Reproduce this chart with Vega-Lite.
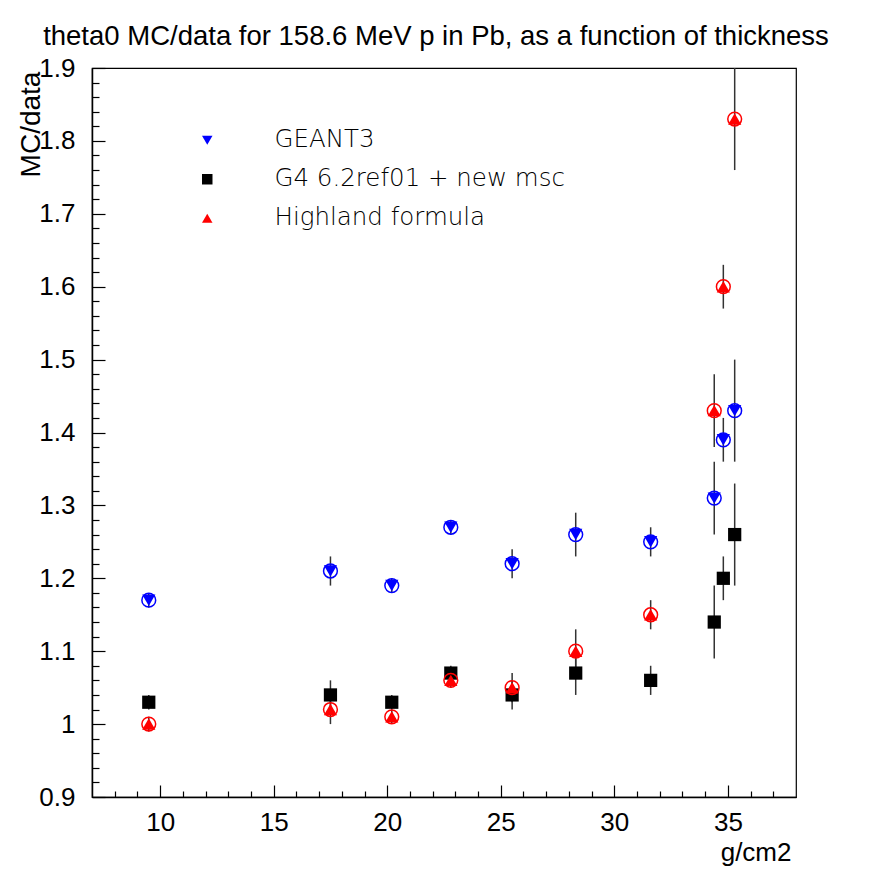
{
  "$schema": "https://vega.github.io/schema/vega-lite/v6.json",
  "width": 704,
  "height": 729,
  "autosize": {"type": "none"},
  "padding": {"left": 92, "top": 68, "right": 76, "bottom": 83},
  "background": "white",
  "title": {
    "text": "theta0 MC/data for 158.6 MeV p in Pb, as a function of thickness",
    "font": "Liberation Sans",
    "fontSize": 27.5,
    "fontWeight": "normal",
    "color": "black",
    "anchor": "middle",
    "baseline": "alphabetic",
    "offset": -17,
    "dx": -8
  },
  "config": {
    "view": {"stroke": "black", "strokeWidth": 1.2},
    "axis": {
      "domainColor": "black",
      "domainWidth": 1.5,
      "tickColor": "black",
      "tickWidth": 1.2,
      "grid": false,
      "labelFont": "Liberation Sans",
      "labelFontSize": 26,
      "labelColor": "black",
      "titleFont": "Liberation Sans",
      "titleFontWeight": "normal",
      "titleColor": "black"
    },
    "legend": {
      "orient": "none",
      "legendX": 103,
      "legendY": 60,
      "direction": "vertical",
      "labelFont": "'DejaVu Sans ExtraLight', 'DejaVu Sans'",
      "labelFontWeight": 200,
      "labelFontSize": 24.5,
      "labelColor": "black",
      "labelOffset": 55,
      "labelLimit": 0,
      "rowPadding": 14,
      "symbolSize": 110,
      "symbolStrokeWidth": 0
    }
  },
  "data": {
    "values": [
      {"series": "GEANT3", "x": 9.5, "y": 1.17, "err": 0.01},
      {"series": "GEANT3", "x": 17.5, "y": 1.21, "err": 0.02},
      {"series": "GEANT3", "x": 20.2, "y": 1.19, "err": 0.01},
      {"series": "GEANT3", "x": 22.8, "y": 1.27, "err": 0.01},
      {"series": "GEANT3", "x": 25.5, "y": 1.22, "err": 0.02},
      {"series": "GEANT3", "x": 28.3, "y": 1.26, "err": 0.03},
      {"series": "GEANT3", "x": 31.6, "y": 1.25, "err": 0.02},
      {"series": "GEANT3", "x": 34.4, "y": 1.31, "err": 0.05},
      {"series": "GEANT3", "x": 34.8, "y": 1.39, "err": 0.03},
      {"series": "GEANT3", "x": 35.3, "y": 1.43, "err": 0.07},
      {"series": "G4 6.2ref01 + new msc", "x": 9.5, "y": 1.03, "err": 0.01},
      {"series": "G4 6.2ref01 + new msc", "x": 17.5, "y": 1.04, "err": 0.02},
      {"series": "G4 6.2ref01 + new msc", "x": 20.2, "y": 1.03, "err": 0.01},
      {"series": "G4 6.2ref01 + new msc", "x": 22.8, "y": 1.07, "err": 0.01},
      {"series": "G4 6.2ref01 + new msc", "x": 25.5, "y": 1.04, "err": 0.02},
      {"series": "G4 6.2ref01 + new msc", "x": 28.3, "y": 1.07, "err": 0.03},
      {"series": "G4 6.2ref01 + new msc", "x": 31.6, "y": 1.06, "err": 0.02},
      {"series": "G4 6.2ref01 + new msc", "x": 34.4, "y": 1.14, "err": 0.05},
      {"series": "G4 6.2ref01 + new msc", "x": 34.8, "y": 1.2, "err": 0.03},
      {"series": "G4 6.2ref01 + new msc", "x": 35.3, "y": 1.26, "err": 0.07},
      {"series": "Highland formula", "x": 9.5, "y": 1.0, "err": 0.01},
      {"series": "Highland formula", "x": 17.5, "y": 1.02, "err": 0.02},
      {"series": "Highland formula", "x": 20.2, "y": 1.01, "err": 0.01},
      {"series": "Highland formula", "x": 22.8, "y": 1.06, "err": 0.01},
      {"series": "Highland formula", "x": 25.5, "y": 1.05, "err": 0.02},
      {"series": "Highland formula", "x": 28.3, "y": 1.1, "err": 0.03},
      {"series": "Highland formula", "x": 31.6, "y": 1.15, "err": 0.02},
      {"series": "Highland formula", "x": 34.4, "y": 1.43, "err": 0.05},
      {"series": "Highland formula", "x": 34.8, "y": 1.6, "err": 0.03},
      {"series": "Highland formula", "x": 35.3, "y": 1.83, "err": 0.07}
    ]
  },
  "encoding": {
    "x": {
      "field": "x",
      "type": "quantitative",
      "scale": {"domain": [7, 38], "nice": false, "zero": false},
      "axis": {
        "title": "g/cm2",
        "titleFontSize": 26,
        "titleX": 699,
        "titleY": 63,
        "titleAlign": "right",
        "titleBaseline": "alphabetic",
        "titleAnchor": "end",
        "values": [8, 9, 10, 11, 12, 13, 14, 15, 16, 17, 18, 19, 20, 21, 22, 23, 24, 25, 26, 27, 28, 29, 30, 31, 32, 33, 34, 35, 36, 37],
        "labelExpr": "datum.value % 5 === 0 ? datum.label : ''",
        "tickSize": {"condition": {"test": "datum.value % 5 === 0", "value": -12}, "value": -6},
        "labelPadding": 24,
        "labelFlush": false,
        "labelOverlap": false
      }
    },
    "y": {
      "field": "y",
      "type": "quantitative",
      "scale": {"domain": [0.9, 1.9], "nice": false, "zero": false},
      "axis": {
        "title": "MC/data",
        "titleFontSize": 28,
        "titleX": -53,
        "titleY": 56,
        "titleAngle": -90,
        "titleAlign": "center",
        "titleBaseline": "alphabetic",
        "values": [0.9, 0.92, 0.94, 0.96, 0.98, 1.0, 1.02, 1.04, 1.06, 1.08, 1.1, 1.12, 1.14, 1.16, 1.18, 1.2, 1.22, 1.24, 1.26, 1.28, 1.3, 1.32, 1.34, 1.36, 1.38, 1.4, 1.42, 1.44, 1.46, 1.48, 1.5, 1.52, 1.54, 1.56, 1.58, 1.6, 1.62, 1.64, 1.66, 1.68, 1.7, 1.72, 1.74, 1.76, 1.78, 1.8, 1.82, 1.84, 1.86, 1.88, 1.9],
        "labelExpr": "abs(datum.value*10 - round(datum.value*10)) < 0.001 ? format(datum.value, '.1~f') : ''",
        "tickSize": {"condition": {"test": "abs(datum.value*10 - round(datum.value*10)) < 0.001", "value": -13}, "value": -7},
        "labelPadding": 30,
        "labelFlush": false,
        "labelOverlap": false
      }
    }
  },
  "layer": [
    {
      "mark": {"type": "errorbar", "color": "#333333", "thickness": 1.5, "ticks": false, "clip": true},
      "encoding": {
        "y": {"field": "y", "type": "quantitative"},
        "yError": {"field": "err"}
      }
    },
    {
      "mark": {"type": "point", "filled": true, "opacity": 1, "size": 175},
      "encoding": {
        "color": {
          "field": "series",
          "type": "nominal",
          "sort": ["GEANT3", "G4 6.2ref01 + new msc", "Highland formula"],
          "scale": {"domain": ["GEANT3", "G4 6.2ref01 + new msc", "Highland formula"], "range": ["#0000ff", "#000000", "#ff0000"]},
          "legend": {"title": null}
        },
        "shape": {
          "field": "series",
          "type": "nominal",
          "sort": ["GEANT3", "G4 6.2ref01 + new msc", "Highland formula"],
          "scale": {"domain": ["GEANT3", "G4 6.2ref01 + new msc", "Highland formula"], "range": ["triangle-down", "square", "triangle-up"]},
          "legend": {"title": null}
        }
      }
    },
    {
      "transform": [{"filter": "datum.series !== 'G4 6.2ref01 + new msc'"}],
      "mark": {"type": "point", "filled": false, "shape": "circle", "size": 190, "strokeWidth": 1.5, "opacity": 1},
      "encoding": {
        "color": {"field": "series", "type": "nominal", "legend": null}
      }
    }
  ]
}
